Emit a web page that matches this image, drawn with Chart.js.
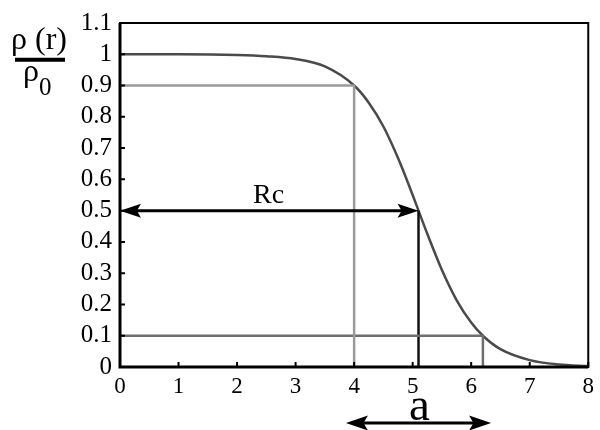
<!DOCTYPE html>
<html>
<head>
<meta charset="utf-8">
<script src="https://cdn.jsdelivr.net/npm/chart.js@4"></script>
<style>
html,body{margin:0;padding:0;background:#fff;}
#wrap{width:600px;height:430px;position:relative;}
</style>
</head>
<body>
<div id="wrap"><canvas id="c" width="600" height="430"></canvas></div>
<script>
// Curve: r and rho(r)/rho0
const rValues   = [0, 1, 2, 2.5, 3, 3.5, 4, 4.25, 4.5, 4.75, 5, 5.1, 5.25, 5.5, 5.75, 6, 6.2, 6.5, 7, 7.5, 8];
const rhoValues = [1.0, 1.0, 0.998, 0.994, 0.985, 0.961, 0.90, 0.845, 0.769, 0.668, 0.55, 0.50, 0.426, 0.31, 0.214, 0.142, 0.10, 0.057, 0.022, 0.008, 0.003];

// Reference guide lines (data coordinates)
const guide90X = [0, 4, 4];    const guide90Y = [0.9, 0.9, 0];
const guide10X = [0, 6.2, 6.2]; const guide10Y = [0.1, 0.1, 0];
const guide50X = [5.1, 5.1];   const guide50Y = [0.5, 0];

// Arrows and their labels
const rcArrowX = [0, 5.1]; const rcArrowY = 0.5; const rcLabel = 'Rc'; const rcLabelPos = [2.54, 0.55];
const aArrowX = [3.86, 6.34]; const aLabel = 'a';

// Ticks
const xTicks = [0, 1, 2, 3, 4, 5, 6, 7, 8];
const yTicks = [0, 0.1, 0.2, 0.3, 0.4, 0.5, 0.6, 0.7, 0.8, 0.9, 1, 1.1];
const yTickLabels = ['0','0.1','0.2','0.3','0.4','0.5','0.6','0.7','0.8','0.9','1','1.1'];

const pts = (xs, ys) => xs.map((x, i) => ({x: x, y: ys[i]}));
const SERIF = "'Liberation Serif', 'Times New Roman', serif";

function arrowHead(ctx, x, y, dir, len, half) {
  ctx.beginPath();
  ctx.moveTo(x, y);
  ctx.lineTo(x - dir * len, y - half);
  ctx.lineTo(x - dir * len * 0.8, y);
  ctx.lineTo(x - dir * len, y + half);
  ctx.closePath();
  ctx.fill();
}

const decor = {
  id: 'decor',
  afterDatasetsDraw(chart) {
    const ctx = chart.ctx, xs = chart.scales.x, ys = chart.scales.y, ca = chart.chartArea;
    ctx.save();
    ctx.strokeStyle = '#000';
    ctx.lineWidth = 2;
    ctx.strokeRect(ca.left, ca.top, ca.right - ca.left, ca.bottom - ca.top);
    ctx.lineWidth = 3;
    ctx.beginPath();
    ctx.moveTo(ca.left, ca.top); ctx.lineTo(ca.left, ca.bottom); ctx.lineTo(ca.right, ca.bottom);
    ctx.stroke();
    ctx.lineWidth = 2;
    ctx.beginPath();
    xTicks.forEach(v => { const p = xs.getPixelForValue(v); ctx.moveTo(p, ca.bottom); ctx.lineTo(p, ca.bottom - 5); });
    yTicks.forEach(v => { const p = ys.getPixelForValue(v); ctx.moveTo(ca.left, p); ctx.lineTo(ca.left + 5, p); });
    ctx.stroke();
    // Rc arrow
    ctx.fillStyle = '#000';
    ctx.lineWidth = 3;
    const x0 = xs.getPixelForValue(rcArrowX[0]), x1 = xs.getPixelForValue(rcArrowX[1]);
    const yy = ys.getPixelForValue(rcArrowY);
    ctx.beginPath(); ctx.moveTo(x0 + 10, yy); ctx.lineTo(x1 - 10, yy); ctx.stroke();
    arrowHead(ctx, x0, yy, -1, 21, 7);
    arrowHead(ctx, x1, yy, 1, 21, 7);
    ctx.font = '28px ' + SERIF;
    ctx.textAlign = 'center'; ctx.textBaseline = 'alphabetic';
    ctx.fillText(rcLabel, xs.getPixelForValue(rcLabelPos[0]), ys.getPixelForValue(rcLabelPos[1]) + 8);
    // a arrow below the axis
    const a0 = xs.getPixelForValue(aArrowX[0]), a1 = xs.getPixelForValue(aArrowX[1]);
    const ay = 423;
    ctx.beginPath(); ctx.moveTo(a0 + 10, ay); ctx.lineTo(a1 - 10, ay); ctx.stroke();
    arrowHead(ctx, a0, ay, -1, 22, 7.5);
    arrowHead(ctx, a1, ay, 1, 22, 7.5);
    ctx.font = '47px ' + SERIF;
    ctx.fillText(aLabel, (a0 + a1) / 2 + 1, 420);
    // y title rho(r)/rho0
    ctx.font = '32px ' + SERIF;
    ctx.textAlign = 'left';
    ctx.fillText('ρ (r)', 11, 49);
    ctx.lineWidth = 4;
    ctx.beginPath(); ctx.moveTo(15, 59.7); ctx.lineTo(65, 59.7); ctx.stroke();
    ctx.fillText('ρ', 23, 81);
    ctx.font = '25px ' + SERIF;
    ctx.fillText('0', 39, 95);
    ctx.restore();
  }
};

new Chart(document.getElementById('c'), {
  type: 'line',
  data: {
    datasets: [
      {data: pts(guide90X, guide90Y), borderColor: '#9a9a9a', borderWidth: 2.5, pointRadius: 0, tension: 0},
      {data: pts(guide10X, guide10Y), borderColor: '#6e6e6e', borderWidth: 2.5, pointRadius: 0, tension: 0},
      {data: pts(guide50X, guide50Y), borderColor: '#111', borderWidth: 2.5, pointRadius: 0, tension: 0},
      {data: pts(rValues, rhoValues), borderColor: '#4a4a4a', borderWidth: 2.5, pointRadius: 0, cubicInterpolationMode: 'monotone'}
    ]
  },
  options: {
    responsive: false,
    animation: false,
    layout: {padding: {left: 0, right: 7, top: 20, bottom: 0}},
    plugins: {legend: {display: false}, tooltip: {enabled: false}},
    scales: {
      x: {
        type: 'linear', min: 0, max: 8,
        afterBuildTicks: s => { s.ticks = xTicks.map(v => ({value: v})); },
        afterFit: s => { s.height = 63; },
        grid: {display: false, drawTicks: false},
        border: {display: false},
        ticks: {color: '#000', padding: 6, maxRotation: 0, autoSkip: false, font: {family: SERIF, size: 23}, callback: v => String(v)}
      },
      y: {
        type: 'linear', min: 0, max: 1.1,
        afterBuildTicks: s => { s.ticks = yTicks.map(v => ({value: v})); },
        afterFit: s => { s.width = 120; },
        grid: {display: false, drawTicks: false},
        border: {display: false},
        ticks: {color: '#000', padding: 8, autoSkip: false, font: {family: SERIF, size: 25},
          callback: (v, i) => yTickLabels[i]}
      }
    }
  },
  plugins: [decor]
});
</script>
</body>
</html>
